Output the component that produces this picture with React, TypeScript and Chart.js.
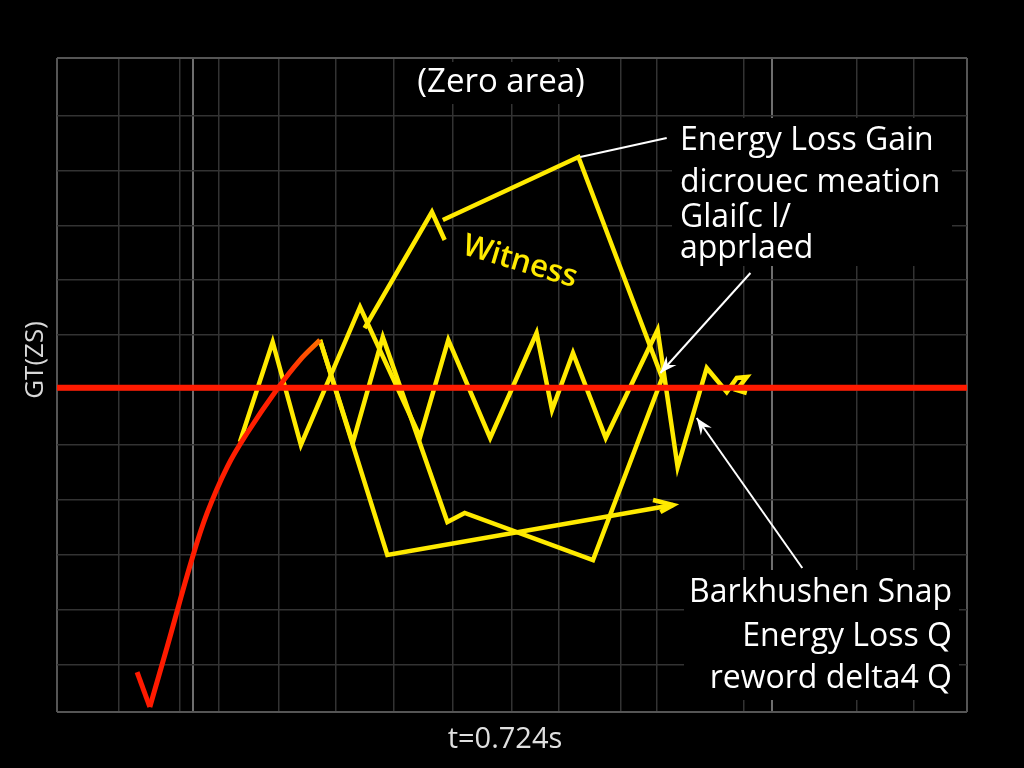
import React, { useEffect, useRef } from "react";
import { Chart, registerables } from "chart.js";

Chart.register(...registerables);

// ---------- data ----------
const X_MIN = 0;
const X_MAX = 100;
const Y_MIN = -5.865;
const Y_MAX = 6.047;

const X_GRID = [0, 6.8, 13.5, 14.9, 17.8, 24.4, 30.6, 37.0, 43.5, 50.0, 55.1, 62.0, 65.9, 75.5, 78.6, 87.9, 94.1, 100];
const X_MAJOR = [14.9, 78.6];
const Y_GRID = [-5.865, -5, -4, -3, -2, -1, 0, 1, 2, 3, 4, 5, 6.047];

// red baseline
const BASE_X = [0, 100];
const BASE_Y = [0.04, 0.04];

// red recovery curve
const RED_TICK_X = [8.8, 10.2];
const RED_TICK_Y = [-5.137, -5.774];
const RED_CURVE_X = [10.2, 12.1, 14.8, 16.5, 18.7, 20.9, 24.2, 26.7, 28.9];
const RED_CURVE_Y = [-5.774, -4.681, -3.097, -2.24, -1.403, -0.783, 0.018, 0.546, 0.911];

// yellow zigzag
const ZIG_X = [20.1, 23.7, 26.8, 33.3, 39.9, 43.0, 47.6, 52.7, 54.4, 56.7, 60.3, 66.0, 68.2, 71.4, 73.6, 74.7, 75.8, 74.7, 75.8];
const ZIG_Y = [-0.947, 0.874, -1.002, 1.512, -0.856, 0.911, -0.874, 1.038, -0.364, 0.674, -0.874, 1.093, -1.403, 0.401, -0.036, 0.219, 0.237, 0.0, -0.055];

// yellow loop
const LOOP_X = [28.9, 32.5, 35.8, 42.9, 44.8, 58.9, 66.5, 57.3, 42.4];
const LOOP_Y = [0.911, -0.965, 0.965, -2.404, -2.24, -3.097, 0.219, 4.244, 3.097];

// yellow witness peak
const PEAK_X = [33.8, 41.2, 42.6];
const PEAK_Y = [1.129, 3.242, 2.732];

// yellow drift with arrow
const DRIFT_X = [28.9, 36.3, 67.7];
const DRIFT_Y = [0.911, -3.005, -2.095];
const DRIFT_HEAD_X = [65.5, 67.7, 66.3];
const DRIFT_HEAD_Y = [-2.004, -2.095, -2.222];

// white callouts
const CALLOUT_FROM_X = [67.0, 76.2, 81.9];
const CALLOUT_FROM_Y = [4.59, 2.131, -3.242];
const CALLOUT_TO_X = [57.5, 66.3, 70.3];
const CALLOUT_TO_Y = [4.244, 0.31, -0.51];
const CALLOUT_HEAD = [false, true, true];

// texts
const TITLE = "(Zero area)";
const X_TITLE = "t=0.724s";
const Y_TITLE = "GT(ZS)";
const WITNESS = "Witness";
const NOTE_TOP = ["Energy Loss Gain", "dicrouec meation", "Glaiſc l/", "apprlaed"];
const NOTE_BOTTOM = ["Barkhushen Snap", "Energy Loss Q", "reword delta4 Q"];

const RED = "#ff1a00";
const YELLOW = "#ffea00";
const FONT = "'Open Sans', 'Noto Sans', sans-serif";

function pts(xs: number[], ys: number[]) {
  return xs.map((x, i) => ({ x, y: ys[i] }));
}

function yellowSet(label: string, xs: number[], ys: number[]) {
  return {
    label,
    data: pts(xs, ys),
    showLine: true,
    borderColor: YELLOW,
    borderWidth: 4.5,
    pointRadius: 0,
    tension: 0,
    borderJoinStyle: "miter" as const,
  };
}

const textPlugin = {
  id: "texts",
  beforeDatasetsDraw(chart: any) {
    const ctx = chart.ctx;
    ctx.save();
    ctx.fillStyle = "#000";
    ctx.fillRect(405, 62, 195, 42);
    ctx.fillRect(672, 118, 280, 148);
    ctx.fillRect(684, 570, 275, 130);
    ctx.restore();
  },
  afterDraw(chart: any) {
    const ctx = chart.ctx;
    const xs = chart.scales.x;
    const ys = chart.scales.y;
    ctx.save();
    // callouts
    ctx.strokeStyle = "#fff";
    ctx.fillStyle = "#fff";
    ctx.lineWidth = 2;
    for (let i = 0; i < CALLOUT_FROM_X.length; i++) {
      const x1 = xs.getPixelForValue(CALLOUT_FROM_X[i]);
      const y1 = ys.getPixelForValue(CALLOUT_FROM_Y[i]);
      const x2 = xs.getPixelForValue(CALLOUT_TO_X[i]);
      const y2 = ys.getPixelForValue(CALLOUT_TO_Y[i]);
      ctx.beginPath();
      ctx.moveTo(x1, y1);
      ctx.lineTo(x2, y2);
      ctx.stroke();
      if (CALLOUT_HEAD[i]) {
        const a = Math.atan2(y2 - y1, x2 - x1);
        const L = 18;
        const w = 0.38;
        ctx.beginPath();
        ctx.moveTo(x2, y2);
        ctx.lineTo(x2 - L * Math.cos(a - w), y2 - L * Math.sin(a - w));
        ctx.lineTo(x2 - L * 0.6 * Math.cos(a), y2 - L * 0.6 * Math.sin(a));
        ctx.lineTo(x2 - L * Math.cos(a + w), y2 - L * Math.sin(a + w));
        ctx.closePath();
        ctx.fill();
      }
    }
    // title
    ctx.fillStyle = "#fff";
    ctx.textBaseline = "alphabetic";
    ctx.font = `33px ${FONT}`;
    ctx.textAlign = "center";
    ctx.fillText(TITLE, 501, 92);
    // x title
    ctx.fillStyle = "#e0e0e0";
    ctx.font = `29px ${FONT}`;
    ctx.fillText(X_TITLE, 505, 748);
    // y title
    ctx.save();
    ctx.translate(43, 360);
    ctx.rotate(-Math.PI / 2);
    ctx.fillStyle = "#d8d8d8";
    ctx.font = `26px ${FONT}`;
    ctx.textAlign = "center";
    ctx.fillText(Y_TITLE, 0, 0);
    ctx.restore();
    // notes
    ctx.fillStyle = "#fff";
    ctx.font = `32px ${FONT}`;
    ctx.textAlign = "left";
    const topBase = [150, 192, 227, 258];
    NOTE_TOP.forEach((t, i) => ctx.fillText(t, 680, topBase[i]));
    ctx.textAlign = "right";
    const botBase = [602, 646, 688];
    NOTE_BOTTOM.forEach((t, i) => ctx.fillText(t, 952, botBase[i]));
    // witness
    ctx.save();
    ctx.translate(520, 262);
    ctx.rotate((16.5 * Math.PI) / 180);
    ctx.fillStyle = YELLOW;
    ctx.font = `600 31px ${FONT}`;
    ctx.textAlign = "center";
    ctx.textBaseline = "middle";
    ctx.fillText(WITNESS, 0, 0);
    ctx.restore();
    ctx.restore();
  },
};

export default function App() {
  const ref = useRef<HTMLCanvasElement | null>(null);

  useEffect(() => {
    document.body.style.margin = "0";
    document.body.style.background = "#000";
    const canvas = ref.current;
    if (!canvas) return;

    const redCurveColor = (c: any) => {
      const chart = c.chart;
      const { chartArea } = chart;
      if (!chartArea) return RED;
      const ys = chart.scales.y;
      const xs = chart.scales.x;
      const g = chart.ctx.createLinearGradient(
        xs.getPixelForValue(RED_CURVE_X[0]),
        ys.getPixelForValue(RED_CURVE_Y[0]),
        xs.getPixelForValue(RED_CURVE_X[RED_CURVE_X.length - 1]),
        ys.getPixelForValue(RED_CURVE_Y[RED_CURVE_Y.length - 1])
      );
      g.addColorStop(0, RED);
      g.addColorStop(0.88, "#ff2000");
      g.addColorStop(1, "#ff7000");
      return g;
    };

    const chart = new Chart(canvas, {
      type: "scatter",
      data: {
        datasets: [
          {
            label: "baseline",
            data: pts(BASE_X, BASE_Y),
            showLine: true,
            borderColor: RED,
            borderWidth: 6,
            pointRadius: 0,
          },
          {
            label: "recovery tick",
            data: pts(RED_TICK_X, RED_TICK_Y),
            showLine: true,
            borderColor: RED,
            borderWidth: 5,
            pointRadius: 0,
          },
          {
            label: "recovery",
            data: pts(RED_CURVE_X, RED_CURVE_Y),
            showLine: true,
            borderColor: redCurveColor,
            borderWidth: 5,
            pointRadius: 0,
            tension: 0.4,
          },
          yellowSet("zigzag", ZIG_X, ZIG_Y),
          yellowSet("loop", LOOP_X, LOOP_Y),
          yellowSet("peak", PEAK_X, PEAK_Y),
          yellowSet("drift", DRIFT_X, DRIFT_Y),
          yellowSet("drift head", DRIFT_HEAD_X, DRIFT_HEAD_Y),
        ] as any,
      },
      options: {
        animation: false,
        responsive: true,
        maintainAspectRatio: false,
        events: [],
        layout: { padding: { left: 57, top: 58, right: 57, bottom: 56 } },
        plugins: {
          legend: { display: false },
          tooltip: { enabled: false },
          title: { display: false },
        },
        scales: {
          x: {
            type: "linear",
            min: X_MIN,
            max: X_MAX,
            afterBuildTicks: (axis: any) => {
              axis.ticks = X_GRID.map((v) => ({ value: v }));
            },
            ticks: { display: false },
            grid: {
              drawTicks: false,
              color: (c: any) =>
                X_MAJOR.includes(c.tick?.value)
                  ? "#6e6e6e"
                  : c.tick?.value === X_MIN || c.tick?.value === X_MAX
                  ? "#555"
                  : "#333",
              lineWidth: (c: any) =>
                X_MAJOR.includes(c.tick?.value) || c.tick?.value === X_MIN || c.tick?.value === X_MAX ? 2 : 1.5,
            },
            border: { display: false },
          },
          y: {
            type: "linear",
            min: Y_MIN,
            max: Y_MAX,
            afterBuildTicks: (axis: any) => {
              axis.ticks = Y_GRID.map((v) => ({ value: v }));
            },
            ticks: { display: false },
            grid: {
              drawTicks: false,
              color: (c: any) =>
                c.tick?.value === Y_MIN || c.tick?.value === Y_MAX ? "#555" : "#333",
              lineWidth: (c: any) => (c.tick?.value === Y_MIN || c.tick?.value === Y_MAX ? 2 : 1.5),
            },
            border: { display: false },
          },
        },
      },
      plugins: [textPlugin],
    });

    return () => chart.destroy();
  }, []);

  return (
    <div
      style={{
        position: "fixed",
        left: 0,
        top: 0,
        width: 1024,
        height: 768,
        background: "#000",
      }}
    >
      <canvas ref={ref} />
    </div>
  );
}
